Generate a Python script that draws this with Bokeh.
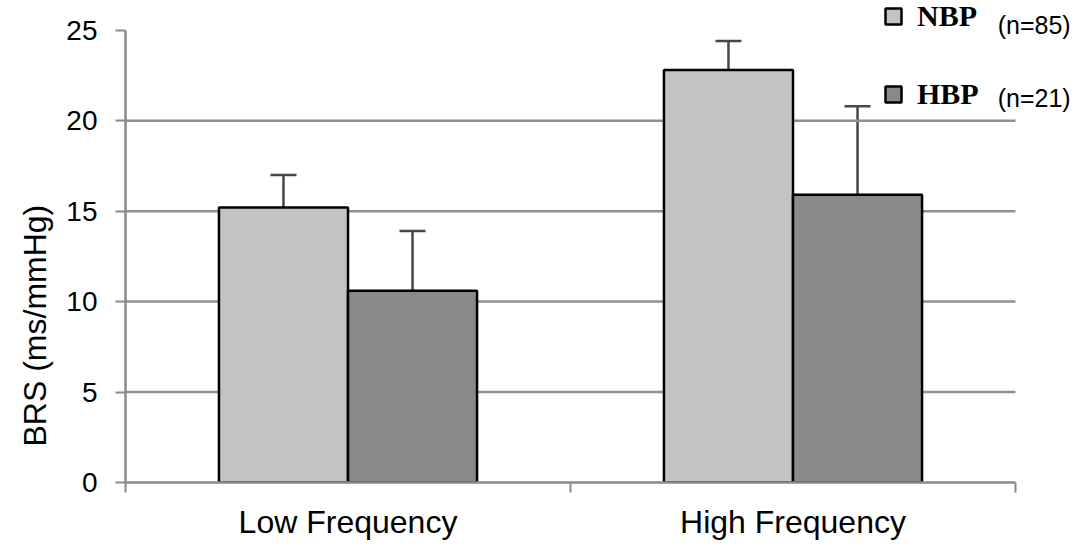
import numpy as np
from bokeh.plotting import figure
from bokeh.models import (ColumnDataSource, Whisker, FixedTicker, Range1d, Label,
                          Legend, LegendItem, TeeHead, Title)
from bokeh.embed import file_html
from bokeh.resources import INLINE

# ---- data ----
categories = ["Low Frequency", "High Frequency"]
groups = ["NBP", "HBP"]
group_n = ["(n=85)", "(n=21)"]
nbp_mean = [15.2, 22.8]
nbp_upper = [17.0, 24.4]
nbp_lower = [14.0, 20.2]
hbp_mean = [10.6, 15.9]
hbp_upper = [13.9, 20.8]
hbp_lower = [8.3, 11.4]
y_ticks = [0, 5, 10, 15, 20, 25]
grid_ticks = [5, 10, 15, 20]
y_max = 25

colors = ["#c3c3c3", "#898989"]
axis_gray = "#8a8a8a"
font = "Liberation Sans"

ncat = len(categories)
idx = np.arange(ncat) + 0.5
bar_w = 0.29
offsets = [-bar_w / 2, bar_w / 2]

W, H = 1073, 542
left, bottom = 125, 56
px_per_cat = 445.0
px_per_unit = 18.24
x_end = (W - left) / px_per_cat
y_end = (H - bottom) / px_per_unit

p = figure(width=W, height=H,
           x_range=Range1d(0, x_end), y_range=Range1d(0, y_end),
           output_backend="svg", toolbar_location=None,
           min_border_left=left, min_border_right=0,
           min_border_top=0, min_border_bottom=bottom)
p.outline_line_color = None
p.background_fill_color = "white"
p.xgrid.visible = False
p.ygrid.visible = False

# grid lines (only across the category span)
p.segment(x0=[0] * len(grid_ticks), x1=[ncat] * len(grid_ticks),
          y0=grid_ticks, y1=grid_ticks, line_color="#909090", line_width=2.5)

# bars + error bars
renderers = []
for means, ups, los, off, col in [
        (nbp_mean, nbp_upper, nbp_lower, offsets[0], colors[0]),
        (hbp_mean, hbp_upper, hbp_lower, offsets[1], colors[1])]:
    src = ColumnDataSource(dict(x=idx + off, top=means, upper=ups, lower=los))
    r = p.vbar(x="x", top="top", bottom=0, width=bar_w, source=src,
               fill_color=col, line_color="black", line_width=2.5)
    renderers.append(r)
    w = Whisker(base="x", upper="upper", lower="lower", source=src,
                line_color="#474747", line_width=2.5,
                upper_head=TeeHead(size=26, line_color="#474747", line_width=2.5),
                lower_head=TeeHead(size=26, line_color="#474747", line_width=2.5))
    p.add_layout(w)

# x axis
xa = p.xaxis[0]
xa.bounds = (0, ncat)
xa.ticker = FixedTicker(ticks=list(idx), minor_ticks=list(range(ncat + 1)))
xa.major_label_overrides = {float(v): c for v, c in zip(idx, categories)}
xa.major_tick_out = 0
xa.major_tick_in = 0
xa.minor_tick_out = 10
xa.minor_tick_in = 0
xa.minor_tick_line_color = axis_gray
xa.minor_tick_line_width = 2
xa.axis_line_color = axis_gray
xa.axis_line_width = 2.5
xa.major_label_standoff = 11
xa.major_label_text_font = font
xa.major_label_text_font_size = "32px"
xa.major_label_text_color = "black"

# y axis
ya = p.yaxis[0]
ya.bounds = (0, y_max)
ya.ticker = FixedTicker(ticks=y_ticks)
ya.major_tick_out = 10
ya.major_tick_in = 0
ya.minor_tick_out = 0
ya.minor_tick_in = 0
ya.major_tick_line_color = axis_gray
ya.major_tick_line_width = 2
ya.axis_line_color = axis_gray
ya.axis_line_width = 2.5
ya.major_label_standoff = 18
ya.major_label_text_font = font
ya.major_label_text_font_size = "28px"
ya.major_label_text_color = "black"

ytitle = Title(text="BRS (ms/mmHg)", align="left", offset=36, standoff=22,
               text_font=font, text_font_size="32px", text_font_style="normal",
               text_color="black")
p.add_layout(ytitle, "left")

# legend
legend = Legend(items=[LegendItem(label=groups[i], renderers=[renderers[i]]) for i in range(2)],
                location=(758, 371), glyph_width=20, glyph_height=20,
                label_height=30, spacing=44, padding=0, margin=0,
                label_standoff=14,
                label_text_font="Liberation Serif", label_text_font_style="bold",
                label_text_font_size="30px", label_text_color="black",
                background_fill_alpha=0, border_line_alpha=0)
p.add_layout(legend)
for txt, yv in zip(group_n, [25.3, 21.25]):
    p.add_layout(Label(x=1.96, y=yv, text=txt, text_align="left", text_baseline="middle",
                       text_font=font, text_font_size="25px", text_color="black"))

open("out.html", "w").write(file_html(p, INLINE))
